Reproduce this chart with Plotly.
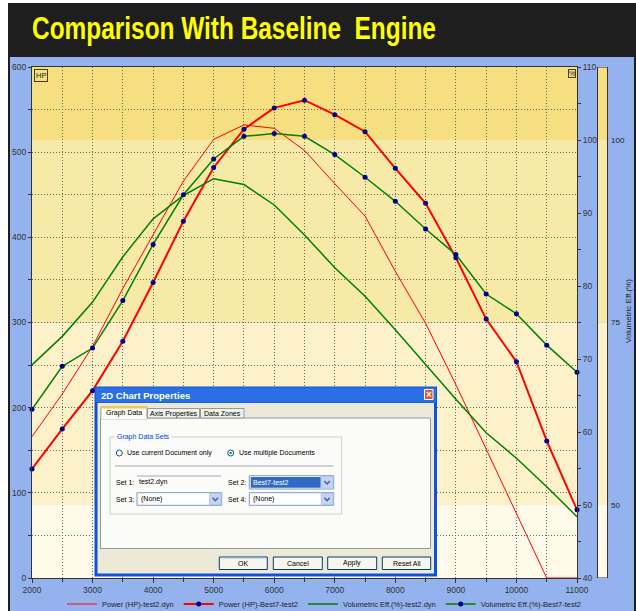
import plotly.graph_objects as go

# ---------------- data ----------------
rpm = [2000, 2500, 3000, 3500, 4000, 4500, 5000, 5500, 6000, 6500,
       7000, 7500, 8000, 8500, 9000, 9500, 10000, 10500, 11000]
power_test2 = [166, 216, 272, 340, 403, 466, 515, 532, 528, 502,
               463, 425, 360, 299, 227, 152, 76, 0, 0]
power_best7 = [128, 175, 220, 278, 347, 419, 482, 527, 552, 561,
               544, 524, 481, 440, 376, 304, 254, 161, 80]
ve_test2 = [69.2, 73.1, 77.8, 84.0, 89.2, 92.4, 94.7, 93.9, 91.1, 87.0,
            82.5, 78.6, 74.0, 69.2, 64.5, 59.9, 56.4, 52.5, 48.4]
ve_best7 = [63.1, 69.0, 71.5, 78.0, 85.7, 92.5, 97.4, 100.5, 100.9, 100.5,
            98.0, 94.9, 91.6, 87.8, 84.3, 78.9, 76.2, 71.9, 68.2]

zone_edges = [40, 50, 75, 100, 110]
zone_colors = ["#FFFAEA", "#FCF1C9", "#F7E9A8", "#F5DF80"]
zone_labels = ["50", "75", "100"]

series_names = ["Power (HP)-test2.dyn", "Power (HP)-Best7-test2",
                "Volumetric Eff.(%)-test2.dyn", "Volumetric Eff.(%)-Best7-test2"]

title_text = "Comparison With Baseline\u00a0 Engine"

# ---------------- geometry helpers (pixel -> paper) ----------------
L, R, T, B = 32, 577, 67, 578
W, H = R - L, B - T


def X(p):
    return (p - L) / W


def Y(p):
    return (B - p) / H


FONT = "Liberation Sans, Arial, sans-serif"
GRID = "#6E6A5A"
AX = "#333333"

fig = go.Figure()
fig.add_trace(go.Scatter(x=rpm, y=power_test2, name=series_names[0], mode="lines",
                         line=dict(color="#FF0000", width=1), cliponaxis=False))
fig.add_trace(go.Scatter(x=rpm, y=power_best7, name=series_names[1], mode="lines+markers",
                         line=dict(color="#FF0000", width=2),
                         marker=dict(color="#00008B", size=5, symbol="circle"), cliponaxis=False))
fig.add_trace(go.Scatter(x=rpm, y=ve_test2, name=series_names[2], mode="lines", yaxis="y2",
                         line=dict(color="#008000", width=1.5), cliponaxis=False))
fig.add_trace(go.Scatter(x=rpm, y=ve_best7, name=series_names[3], mode="lines+markers", yaxis="y2",
                         line=dict(color="#008000", width=1.5),
                         marker=dict(color="#00008B", size=5, symbol="circle"), cliponaxis=False))

shapes = []
annotations = []


def prect(x0, y0, x1, y1, fill, line=None, lw=1, layer="above"):
    shapes.append(dict(type="rect", xref="paper", yref="paper",
                       x0=X(x0), x1=X(x1), y0=Y(y0), y1=Y(y1),
                       fillcolor=fill, layer=layer,
                       line=dict(color=line if line else "rgba(0,0,0,0)", width=lw if line else 0)))


def pline(x0, y0, x1, y1, color, lw=1):
    shapes.append(dict(type="line", xref="paper", yref="paper",
                       x0=X(x0), x1=X(x1), y0=Y(y0), y1=Y(y1), layer="above",
                       line=dict(color=color, width=lw)))


def pcircle(x0, y0, x1, y1, fill, line=None):
    shapes.append(dict(type="circle", xref="paper", yref="paper",
                       x0=X(x0), x1=X(x1), y0=Y(y0), y1=Y(y1), layer="above",
                       fillcolor=fill,
                       line=dict(color=line if line else "rgba(0,0,0,0)", width=1 if line else 0)))


def chevron(cx, cy, color="#4D6185"):
    shapes.append(dict(type="path", xref="paper", yref="paper", layer="above",
                       path=f"M {X(cx-2.7)},{Y(cy-1.5)} L {X(cx)},{Y(cy+1.5)} L {X(cx+2.7)},{Y(cy-1.5)}",
                       line=dict(color=color, width=1.5)))


def text(x, y, s, size=7, color="#000000", xanchor="left", bold=False, bg=None, family=FONT):
    annotations.append(dict(xref="paper", yref="paper", x=X(x), y=Y(y), text=s,
                            showarrow=False, xanchor=xanchor, yanchor="middle",
                            font=dict(family=family, size=size, color=color,
                                      weight="bold" if bold else "normal"),
                            bgcolor=bg, borderpad=0))


# ---------------- background frame ----------------
prect(8, 3, 636, 611, "#1E1E1E", layer="below")
prect(10, 57, 634, 611, "#93B2EE", layer="below")

# zones in plot area and colour bar
for i in range(len(zone_colors)):
    shapes.append(dict(type="rect", xref="x", yref="y2", x0=rpm[0], x1=rpm[-1],
                       y0=zone_edges[i], y1=zone_edges[i + 1], fillcolor=zone_colors[i],
                       line=dict(width=0), layer="below"))
    shapes.append(dict(type="rect", xref="paper", yref="y2", x0=X(597.5), x1=X(607.5),
                       y0=zone_edges[i], y1=zone_edges[i + 1], fillcolor=zone_colors[i],
                       line=dict(width=0), layer="below"))
shapes.append(dict(type="rect", xref="paper", yref="y2", x0=X(597.5), x1=X(607.5),
                   y0=zone_edges[0], y1=zone_edges[-1], fillcolor="rgba(0,0,0,0)",
                   line=dict(color=AX, width=1), layer="below"))
for v in zone_labels:
    annotations.append(dict(xref="paper", yref="y2", x=X(609), y=float(v), text=v,
                            showarrow=False, xanchor="left", yanchor="middle",
                            font=dict(family=FONT, size=8, color="#222222")))
annotations.append(dict(xref="paper", yref="paper", x=X(628), y=Y(311),
                        text="Volumetric Eff.(%)", textangle=-90, showarrow=False,
                        xanchor="center", yanchor="middle",
                        font=dict(family=FONT, size=8, color="#222222")))

# title (narrowed in the browser to the reference's condensed face)
annotations.append(dict(xref="paper", yref="paper", x=X(30), y=Y(29), text=title_text,
                        showarrow=False, xanchor="left", yanchor="middle",
                        font=dict(family=FONT, size=31, color="#FFFF00", weight="bold")))

# axis unit boxes
annotations.append(dict(xref="paper", yref="paper", x=X(33.5), y=Y(68.5), text="HP",
                        showarrow=False, xanchor="left", yanchor="top",
                        bordercolor="#4A3F10", borderwidth=1, borderpad=1,
                        font=dict(family=FONT, size=7.5, color="#222222")))
annotations.append(dict(xref="paper", yref="paper", x=X(576), y=Y(68.5), text="%",
                        showarrow=False, xanchor="right", yanchor="top",
                        bordercolor="#4A3F10", borderwidth=1, borderpad=0,
                        font=dict(family=FONT, size=7, color="#222222")))

# ---------------- dialog window ----------------
prect(94.5, 386.5, 437, 576.5, "#0B53DA")
prect(95.5, 387.5, 436, 402.5, "#2B6FE5")
prect(97.5, 403, 434, 573.5, "#ECE9D8")
text(100, 395, "2D Chart Properties", size=9.5, color="#FFFFFF", bold=True)
prect(424.5, 389.5, 433, 399.5, "#E0542C", line="#FFFFFF")
text(428.75, 394.7, "\u00d7", size=10, color="#FFFFFF", xanchor="center", bold=True)

# tabs
prect(100.5, 418, 430.5, 548.5, "#FBFBF9", line="#919B9C")
prect(147.5, 408.5, 199.5, 418, "#F1F1EC", line="#919B9C")
prect(200.5, 408.5, 244, 418, "#F1F1EC", line="#919B9C")
prect(101, 407, 147, 419, "#FBFBF9", line="#919B9C")
prect(101.5, 417, 146.5, 419.5, "#FBFBF9")
prect(101, 406.5, 147, 408.5, "#FFC83C")
text(124, 413, "Graph Data", xanchor="center")
text(173.5, 413.5, "Axis Properties", xanchor="center")
text(222.3, 413.5, "Data Zones", xanchor="center")

# group box
prect(110, 437, 341.7, 514, "rgba(0,0,0,0)", line="#D0D0BF")
text(114, 437, " Graph Data Sets ", color="#0046D5", bg="#FBFBF9")
pcircle(116.3, 450, 122.3, 456, "#FFFFFF", line="#1C5180")
text(125.5, 453.2, "Use current Document only")
pcircle(227.7, 450, 233.7, 456, "#FFFFFF", line="#1C5180")
pcircle(229.4, 451.7, 232.0, 454.3, "#21A121")
text(237.5, 453.2, "Use multiple Documents")
pline(115, 466, 333.3, 466, "#A7A6AA")

# set fields
text(115, 482.3, "Set 1:")
pline(137, 476, 221, 476, "#A7A6AA")
text(138, 482.3, "test2.dyn")
text(227, 482.3, "Set 2:")
prect(249.3, 475.7, 333.7, 489, "#FFFFFF", line="#7F9DB9")
prect(250.7, 477, 320.7, 487.7, "#316AC5")
text(251.5, 482.3, "Best7-test2", color="#FFFFFF")
prect(321.3, 476.6, 333, 488.2, "#C3D3FD", line="#B1C4EE")
chevron(327.1, 482.4)

text(115, 499.3, "Set 3:")
prect(137, 492.7, 221.7, 505.3, "#FFFFFF", line="#7F9DB9")
text(139.5, 499.3, "(None)")
prect(209.6, 493.5, 221, 504.5, "#C3D3FD", line="#B1C4EE")
chevron(215.3, 499.2)
text(227, 499.3, "Set 4:")
prect(249.3, 492.7, 333.7, 505.3, "#FFFFFF", line="#7F9DB9")
text(251.5, 499.3, "(None)")
prect(321.3, 493.5, 333, 504.5, "#C3D3FD", line="#B1C4EE")
chevron(327.1, 499.2)

# buttons
for (x0, x1, lab) in [(219.3, 267.3, "OK"), (273.3, 322.3, "Cancel"),
                      (327.7, 376.7, "Apply"), (382.3, 430.7, "Reset All")]:
    prect(x0, 557, x1, 569.5, "#F6F5EE", line="#003C74")
    text((x0 + x1) / 2, 563.3, lab, xanchor="center")
pline(220.5, 558.2, 266.1, 558.2, "#B6CBF4")

# ---------------- axes & layout ----------------
tickfont = dict(family=FONT, size=8.5, color="#333333")
DASH = "1px,2px"
fig.update_layout(
    width=636, height=611,
    margin=dict(l=L, r=636 - R, t=T, b=611 - B, pad=0, autoexpand=False),
    paper_bgcolor="#FFFFFF",
    plot_bgcolor="rgba(0,0,0,0)",
    showlegend=True,
    legend=dict(orientation="h", x=X(62), xanchor="left", y=Y(604), yanchor="middle",
                bgcolor="rgba(0,0,0,0)", font=dict(family=FONT, size=7.5, color="#222222"),
                itemwidth=30, tracegroupgap=0),
    xaxis=dict(range=[2000, 11000], tick0=2000, dtick=1000, tickformat="d", showgrid=True,
               gridcolor=GRID, griddash=DASH, gridwidth=1,
               ticks="outside", ticklen=4, tickcolor=AX, tickfont=tickfont,
               showline=True, linecolor=AX, linewidth=1, mirror=True, zeroline=False,
               minor=dict(dtick=500, tick0=2000, showgrid=True, gridcolor=GRID, griddash=DASH,
                          ticks="outside", ticklen=3, tickcolor=AX)),
    yaxis=dict(range=[0, 600], tick0=0, dtick=100, tickformat="d", showgrid=True,
               gridcolor=GRID, griddash=DASH, gridwidth=1,
               ticks="outside", ticklen=3, tickcolor=AX, tickfont=tickfont,
               showline=True, linecolor=AX, linewidth=1, zeroline=False,
               minor=dict(dtick=50, tick0=0, showgrid=True, gridcolor=GRID, griddash=DASH,
                          ticks="outside", ticklen=3, tickcolor=AX)),
    yaxis2=dict(range=[40, 110], tick0=40, dtick=10, tickformat="d", overlaying="y", side="right",
                showgrid=False, ticks="outside", ticklen=3, tickcolor=AX, tickfont=tickfont,
                showline=True, linecolor=AX, linewidth=1, zeroline=False,
                minor=dict(dtick=5, ticks="outside", ticklen=3, tickcolor=AX)),
    shapes=shapes,
    annotations=annotations,
)

post = """
document.body.style.margin = '0';
document.body.style.padding = '0';
var gd = document.getElementById('{plot_id}');
function narrowTitle() {
  var ts = gd.querySelectorAll('.annotation-text');
  ts.forEach(function (t) {
    if (t.textContent.indexOf('Comparison') === 0) {
      t.style.transform = '';
      var w = t.getBBox().width;
      if (w > 0) {
        var s = 404 / w;
        t.style.transformBox = 'fill-box';
        t.style.transformOrigin = 'left center';
        t.style.transform = 'scaleX(' + s + ')';
      }
    }
  });
}
narrowTitle();
gd.on('plotly_afterplot', narrowTitle);
"""

fig.write_html("out.html", post_script=post, config={"displayModeBar": False})
